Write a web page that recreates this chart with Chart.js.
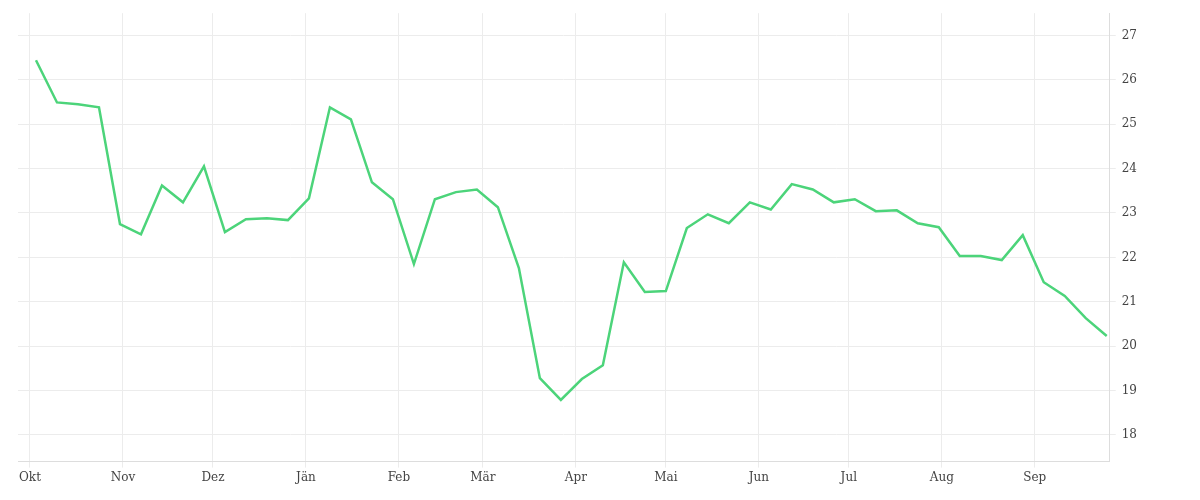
<!DOCTYPE html>
<html><head><meta charset="utf-8">
<script src="https://cdn.jsdelivr.net/npm/chart.js@4"></script>
<style>html,body{margin:0;padding:0;background:#fff}#w{width:1200px;height:500px}</style>
</head><body><div id="w"><canvas id="c"></canvas></div>
<script>
const monthLabels = ["Okt","Nov","Dez","Jän","Feb","Mär","Apr","Mai","Jun","Jul","Aug","Sep"];
const monthStartDays = [0,31,61,92,123,151,182,212,243,273,304,335];
const yTicks = [18,19,20,21,22,23,24,25,26,27];
const firstDay = 2, stepDays = 7;
const values = [26.44,25.49,25.45,25.38,22.75,22.52,23.62,23.24,24.05,22.57,22.86,22.88,22.84,23.33,25.38,25.11,23.69,23.31,21.85,23.31,23.47,23.53,23.13,21.76,19.28,18.79,19.26,19.57,21.89,21.22,21.24,22.66,22.97,22.77,23.24,23.08,23.65,23.53,23.24,23.31,23.04,23.06,22.77,22.68,22.03,22.03,21.94,22.50,21.44,21.13,20.63,20.23];
const pts = values.map((v,i)=>({x:firstDay+stepDays*i,y:v}));
const font = {family:"DejaVu Serif",size:12};
new Chart(document.getElementById('c'),{
  type:'line',
  data:{datasets:[{data:pts,borderColor:'#4cd47a',borderWidth:2.5,pointRadius:0,tension:0,fill:false}]},
  options:{responsive:true,maintainAspectRatio:false,animation:false,
    layout:{padding:{left:18,right:57,top:12,bottom:12}},
    plugins:{legend:{display:false},tooltip:{enabled:false}},
    scales:{
      x:{type:'linear',min:-4,max:360,
        afterBuildTicks:a=>{a.ticks=monthStartDays.map(v=>({value:v}));},
        ticks:{autoSkip:false,maxRotation:0,font,color:'#444',callback:v=>monthLabels[monthStartDays.indexOf(v)]},
        grid:{color:'#ececec',drawTicks:true,tickLength:6},border:{color:'#ddd'}},
      y:{position:'right',min:17.4,max:27.5,
        afterBuildTicks:a=>{a.ticks=yTicks.map(v=>({value:v}));},
        ticks:{font,color:'#444',padding:6},
        grid:{color:'#ececec',tickLength:6},border:{color:'#ddd'}}
    }}
});
</script></body></html>
